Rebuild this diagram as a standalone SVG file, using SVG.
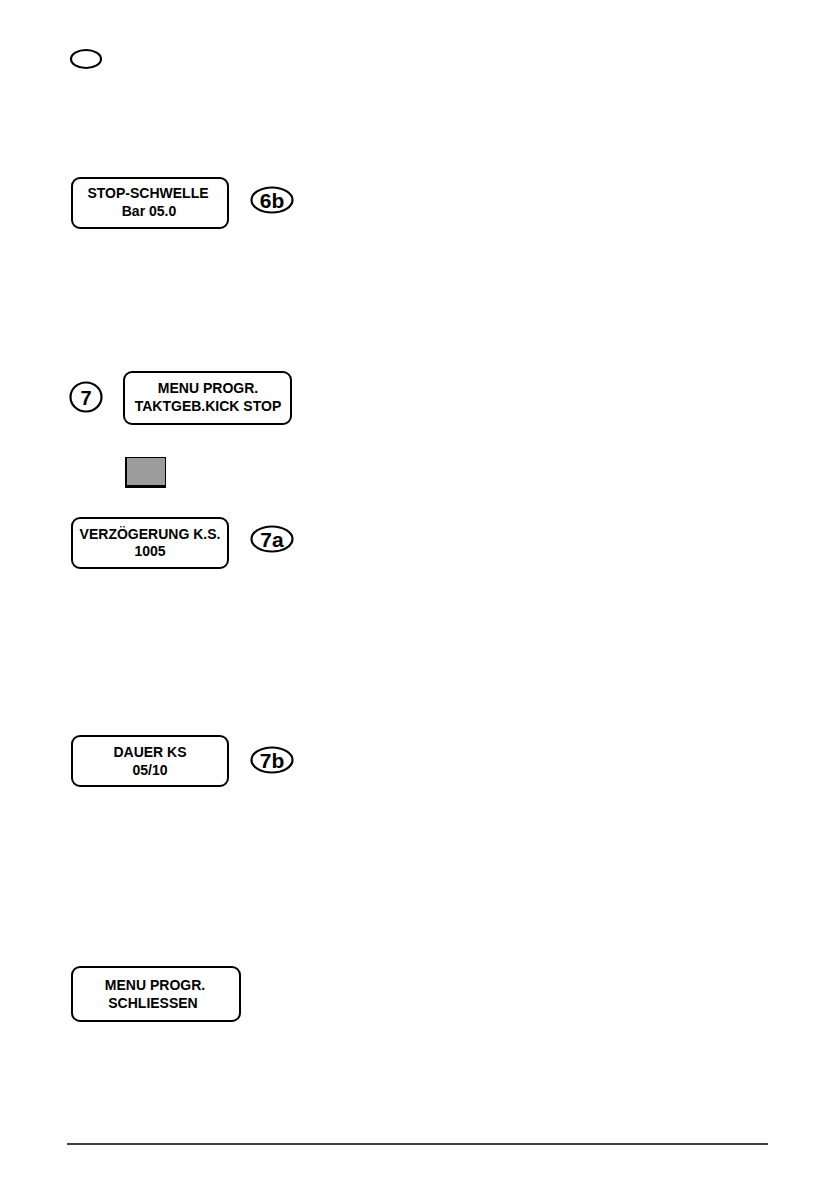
<svg xmlns="http://www.w3.org/2000/svg" width="839" height="1191" viewBox="0 0 839 1191">
<style>
.box{fill:#fff;stroke:#000;stroke-width:2}
.ov{fill:#fff;stroke:#000;stroke-width:2.2}
.t{font-family:"Liberation Sans",Arial,sans-serif;font-weight:bold;font-size:14px;text-anchor:middle;fill:#000}
.n{font-family:"Liberation Sans",Arial,sans-serif;font-weight:bold;font-size:21px;text-anchor:middle;fill:#000}
</style>
<rect width="839" height="1191" fill="#fff"/>
<g id="lang-mark"><ellipse class="ov" cx="86" cy="59" rx="15" ry="9" stroke-width="1.5"/></g>
<g id="box-6b">
<rect class="box" x="72" y="178" width="156" height="50" rx="8"/>
<text class="t" x="148" y="198">STOP-SCHWELLE</text>
<text class="t" x="149" y="215.5">Bar 05.0</text>
</g>
<g id="label-6b"><ellipse class="ov" cx="272" cy="200" rx="20.5" ry="12.5"/><text class="n" x="272" y="207.5">6b</text></g>
<g id="label-7"><ellipse class="ov" cx="86" cy="397" rx="15.5" ry="14.5"/><text class="n" x="86" y="404.5" style="font-size:20px">7</text></g>
<g id="box-7">
<rect class="box" x="124" y="372" width="167" height="52" rx="8"/>
<text class="t" x="208" y="393">MENU PROGR.</text>
<text class="t" x="208" y="410.5">TAKTGEB.KICK STOP</text>
</g>
<g id="key">
<rect x="125" y="457" width="41" height="31" fill="#000"/>
<rect x="127" y="458" width="38" height="27" fill="#9c9c9c"/>
</g>
<g id="box-7a">
<rect class="box" x="72" y="518" width="156" height="50" rx="8"/>
<text class="t" x="150" y="538.5">VERZÖGERUNG K.S.</text>
<text class="t" x="150" y="555.5">1005</text>
</g>
<g id="label-7a"><ellipse class="ov" cx="272" cy="539" rx="20.5" ry="12.5"/><text class="n" x="272" y="546.5">7a</text></g>
<g id="box-7b">
<rect class="box" x="72" y="736" width="156" height="50" rx="8"/>
<text class="t" x="150" y="757">DAUER KS</text>
<text class="t" x="150" y="774.5">05/10</text>
</g>
<g id="label-7b"><ellipse class="ov" cx="272" cy="760" rx="20.5" ry="12.5"/><text class="n" x="272" y="767.5">7b</text></g>
<g id="box-close">
<rect class="box" x="72" y="967" width="168" height="54" rx="8"/>
<text class="t" x="155" y="990">MENU PROGR.</text>
<text class="t" x="153" y="1007.5">SCHLIESSEN</text>
</g>
<g id="connectors"></g>
<line x1="67" y1="1144" x2="768" y2="1144" stroke="#000" stroke-width="1.5"/>
</svg>
